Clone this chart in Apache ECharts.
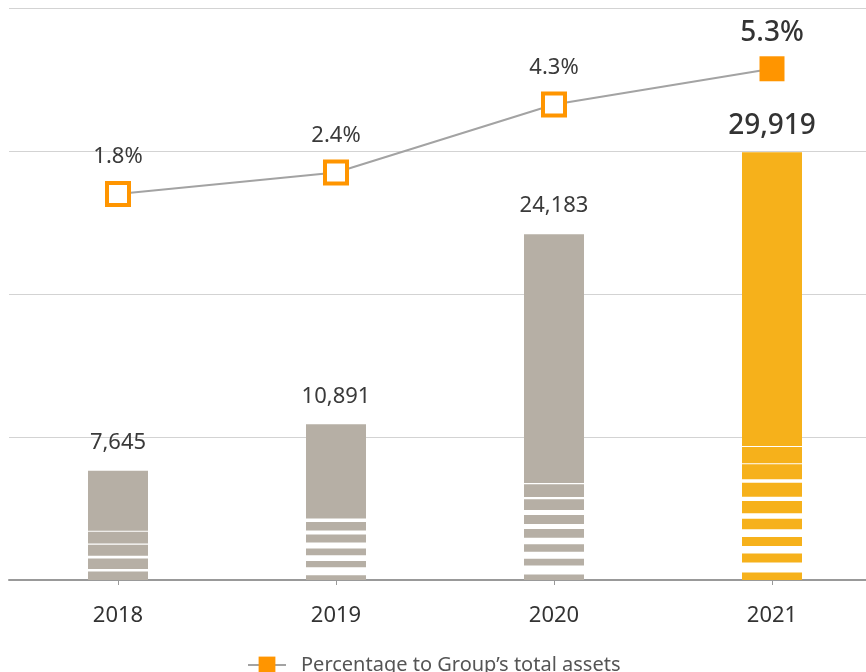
<!DOCTYPE html>
<html>
<head>
<meta charset="utf-8">
<script src="https://cdn.jsdelivr.net/npm/echarts@6/dist/echarts.min.js"></script>
<style>
html,body{margin:0;padding:0;background:#fff;overflow:hidden;}
#chart{width:890px;height:672px;}
</style>
</head>
<body>
<div id="chart"></div>
<script>
// ---- data ----
const years = ['2018', '2019', '2020', '2021'];
const totals = [7645, 10891, 24183, 29919];
const percentages = [1.8, 2.4, 4.3, 5.3];
// lower stripes of each bar (bottom -> top) and the white gaps between them
const stripes2018 = [594, 734, 769, 825];
const gaps2018 = [175, 189, 91, 70];
const stripes2019 = [336, 427, 483, 573, 594];
const gaps2019 = [559, 406, 406, 280, 245];
const stripes2020 = [385, 476, 517, 608, 615, 748, 888];
const gaps2020 = [629, 490, 455, 364, 364, 154, 84];
const stripes2021 = [517, 629, 629, 748, 860, 979, 1049, 1140];
const gaps2021 = [699, 531, 538, 371, 308, 231, 70, 70];
// top (main) block of each bar
const topBlock = [4198, 6582, 17406, 20550];
const legendName = 'Percentage to Group’s total assets';

// ---- styles ----
const GREY = '#b6afa5';
const GOLD = '#f6b11b';
const ORANGE = '#ff9500';
const FONT = 'Noto Sans';

const stripesByYear = [stripes2018, stripes2019, stripes2020, stripes2021];
const gapsByYear = [gaps2018, gaps2019, gaps2020, gaps2021];
const maxLayers = Math.max(...stripesByYear.map(a => a.length));

const barColor = p => (p.dataIndex === 3 ? GOLD : GREY);
const series = [];
for (let k = 0; k < maxLayers; k++) {
  series.push({
    type: 'bar', stack: 'total', barWidth: 60, silent: true,
    data: stripesByYear.map(a => (a[k] !== undefined ? a[k] : 0)),
    itemStyle: { color: barColor }
  });
  series.push({
    type: 'bar', stack: 'total', barWidth: 60, silent: true,
    data: gapsByYear.map(a => (a[k] !== undefined ? a[k] : 0)),
    itemStyle: { color: 'rgba(0,0,0,0)' }
  });
}
series.push({
  type: 'bar', stack: 'total', barWidth: 60, silent: true,
  data: topBlock.map((v, i) => i === 3 ? { value: v, label: { distance: 12 } } : v),
  itemStyle: { color: barColor },
  label: {
    show: true, position: 'top', distance: 17,
    formatter: p => (p.dataIndex === 3 ? '{b|' : '{a|') + totals[p.dataIndex].toLocaleString('en-US') + '}',
    rich: {
      a: { fontFamily: FONT, fontSize: 22, color: '#3a3a3a' },
      b: { fontFamily: FONT, fontSize: 28, fontWeight: 500, color: '#333' }
    }
  }
});
series.push({
  name: legendName,
  type: 'line', yAxisIndex: 1, silent: true,
  data: percentages.map((v, i) => i === 3
    ? { value: v, symbolSize: 25, label: { distance: 9 }, itemStyle: { color: ORANGE, borderColor: ORANGE, borderWidth: 0 } }
    : v),
  symbol: 'rect', symbolSize: 22,
  lineStyle: { color: '#a3a3a3', width: 2 },
  itemStyle: { color: '#fff', borderColor: ORANGE, borderWidth: 4 },
  label: {
    show: true, position: 'top', distance: 13,
    formatter: p => (p.dataIndex === 3 ? '{b|' : '{a|') + p.value + '%}',
    rich: {
      a: { fontFamily: FONT, fontSize: 22, color: '#3a3a3a' },
      b: { fontFamily: FONT, fontSize: 28, fontWeight: 500, color: '#333' }
    }
  },
  z: 5
});

const chart = echarts.init(document.getElementById('chart'), null, { renderer: 'canvas' });
chart.setOption({
  animation: false,
  textStyle: { fontFamily: FONT },
  grid: { left: 9, width: 872, top: 8, bottom: 92, containLabel: false },
  legend: {
    data: [{ name: legendName, itemStyle: { color: ORANGE, borderColor: ORANGE, borderWidth: 0 } }],
    left: 242, top: 650,
    itemWidth: 38, itemHeight: 21, itemGap: 16,
    textStyle: { fontFamily: FONT, fontSize: 20, color: '#555', padding: [0, 0, 0, 10] }
  },
  xAxis: {
    type: 'category', data: years,
    axisLine: { lineStyle: { color: '#999', width: 2 } },
    axisTick: { show: true, alignWithLabel: true, length: 5, lineStyle: { color: '#999' } },
    axisLabel: { fontFamily: FONT, fontSize: 22, color: '#333', margin: 25 }
  },
  yAxis: [
    {
      type: 'value', min: 0, max: 40000, interval: 10000,
      axisLabel: { show: false }, axisLine: { show: false }, axisTick: { show: false },
      splitLine: { lineStyle: { color: '#d3d3d3', width: 1 } }
    },
    {
      type: 'value', min: -9, max: 7, show: false, splitLine: { show: false }
    }
  ],
  series: series
});
</script>
</body>
</html>
